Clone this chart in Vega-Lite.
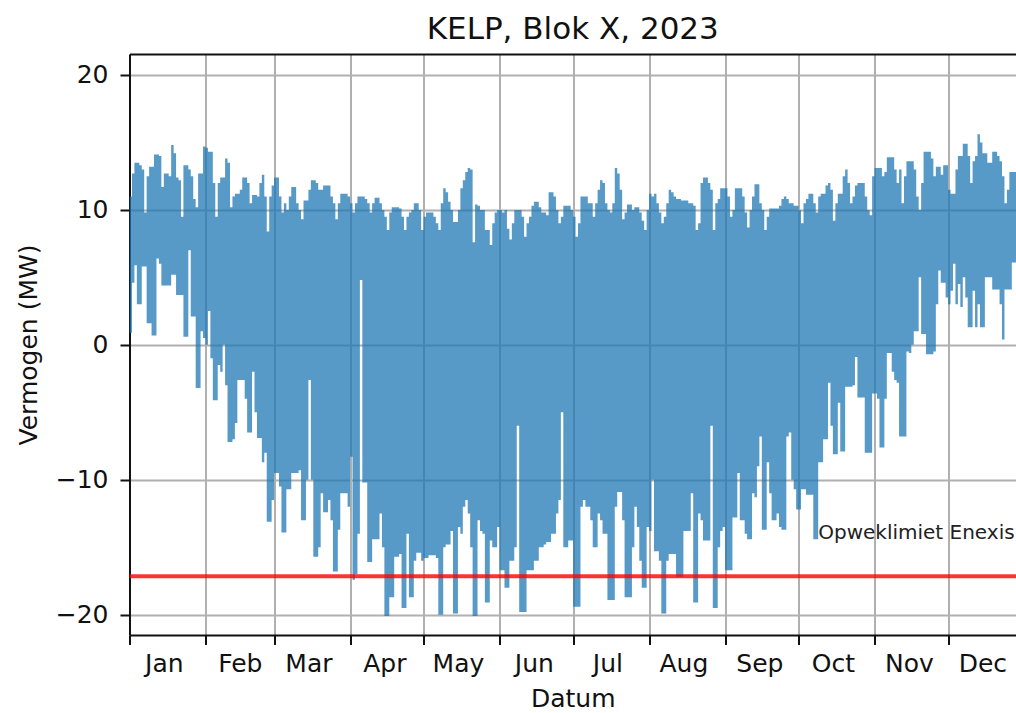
{
  "$schema": "https://vega.github.io/schema/vega-lite/v6.json",
  "width": 886.5,
  "height": 581,
  "autosize": {"type": "none"},
  "padding": {"left": 129.5, "top": 54, "right": 0, "bottom": 78},
  "background": "white",
  "config": {"font": "DejaVu Sans", "view": {"stroke": null}},
  "title": {"text": "KELP, Blok X, 2023", "fontSize": 31, "fontWeight": "normal", "color": "#111", "font": "DejaVu Sans", "baseline": "alphabetic", "frame": "group", "offset": 16, "dy": 32, "anchor": "middle"},
  "resolve": {"axis": {"x": "independent"}},
  "layer": [
    {
      "data": {"values": [
{"d":"2023-01-01","hi":11.0,"lo":0.9},{"d":"2023-01-02","hi":12.7,"lo":4.6},{"d":"2023-01-03","hi":13.5,"lo":5.9},{"d":"2023-01-04","hi":13.5,"lo":3.0},{"d":"2023-01-05","hi":13.3,"lo":3.0},{"d":"2023-01-06","hi":13.0,"lo":5.8},{"d":"2023-01-07","hi":9.8,"lo":5.8},{"d":"2023-01-08","hi":12.5,"lo":1.6},{"d":"2023-01-09","hi":13.2,"lo":1.6},{"d":"2023-01-10","hi":13.2,"lo":0.7},{"d":"2023-01-11","hi":14.1,"lo":0.7},{"d":"2023-01-12","hi":14.1,"lo":6.4},{"d":"2023-01-13","hi":14.0,"lo":6.0},{"d":"2023-01-14","hi":11.7,"lo":4.4},{"d":"2023-01-15","hi":12.7,"lo":4.4},{"d":"2023-01-16","hi":12.7,"lo":4.4},{"d":"2023-01-17","hi":12.5,"lo":4.4},{"d":"2023-01-18","hi":14.8,"lo":5.2},{"d":"2023-01-19","hi":14.2,"lo":5.2},{"d":"2023-01-20","hi":12.4,"lo":3.7},{"d":"2023-01-21","hi":12.2,"lo":3.7},{"d":"2023-01-22","hi":9.5,"lo":3.7},{"d":"2023-01-23","hi":13.3,"lo":0.6},{"d":"2023-01-24","hi":13.3,"lo":0.6},{"d":"2023-01-25","hi":13.0,"lo":7.0},{"d":"2023-01-26","hi":12.5,"lo":2.1},{"d":"2023-01-27","hi":10.8,"lo":2.1},{"d":"2023-01-28","hi":10.2,"lo":-3.2},{"d":"2023-01-29","hi":12.7,"lo":-3.2},{"d":"2023-01-30","hi":12.7,"lo":1.0},{"d":"2023-01-31","hi":14.7,"lo":0.5},
{"d":"2023-02-01","hi":14.6,"lo":0.0},{"d":"2023-02-02","hi":14.3,"lo":2.5},{"d":"2023-02-03","hi":14.3,"lo":-1.0},{"d":"2023-02-04","hi":12.0,"lo":-4.1},{"d":"2023-02-05","hi":9.5,"lo":-4.1},{"d":"2023-02-06","hi":12.0,"lo":-1.5},{"d":"2023-02-07","hi":12.4,"lo":-2.0},{"d":"2023-02-08","hi":12.4,"lo":0.0},{"d":"2023-02-09","hi":13.8,"lo":-3.0},{"d":"2023-02-10","hi":13.5,"lo":-7.2},{"d":"2023-02-11","hi":10.2,"lo":-7.2},{"d":"2023-02-12","hi":11.0,"lo":-7.0},{"d":"2023-02-13","hi":11.2,"lo":-5.8},{"d":"2023-02-14","hi":11.2,"lo":-2.6},{"d":"2023-02-15","hi":11.5,"lo":-2.6},{"d":"2023-02-16","hi":12.4,"lo":-2.6},{"d":"2023-02-17","hi":12.4,"lo":-4.0},{"d":"2023-02-18","hi":12.0,"lo":-6.5},{"d":"2023-02-19","hi":10.5,"lo":-6.5},{"d":"2023-02-20","hi":11.1,"lo":-2.0},{"d":"2023-02-21","hi":11.1,"lo":-5.0},{"d":"2023-02-22","hi":11.0,"lo":-6.9},{"d":"2023-02-23","hi":12.0,"lo":-6.9},{"d":"2023-02-24","hi":12.6,"lo":-8.7},{"d":"2023-02-25","hi":11.0,"lo":-8.0},{"d":"2023-02-26","hi":8.4,"lo":-13.1},{"d":"2023-02-27","hi":11.0,"lo":-13.1},{"d":"2023-02-28","hi":11.8,"lo":-11.5},
{"d":"2023-03-01","hi":12.4,"lo":-9.5},{"d":"2023-03-02","hi":12.4,"lo":-9.5},{"d":"2023-03-03","hi":11.0,"lo":-10.5},{"d":"2023-03-04","hi":9.8,"lo":-13.9},{"d":"2023-03-05","hi":10.5,"lo":-13.9},{"d":"2023-03-06","hi":10.0,"lo":-10.7},{"d":"2023-03-07","hi":11.0,"lo":-10.7},{"d":"2023-03-08","hi":11.7,"lo":-9.5},{"d":"2023-03-09","hi":11.7,"lo":-9.5},{"d":"2023-03-10","hi":10.5,"lo":-9.5},{"d":"2023-03-11","hi":10.0,"lo":-9.3},{"d":"2023-03-12","hi":9.3,"lo":-13.0},{"d":"2023-03-13","hi":10.7,"lo":-13.0},{"d":"2023-03-14","hi":10.7,"lo":-10.0},{"d":"2023-03-15","hi":11.5,"lo":-2.6},{"d":"2023-03-16","hi":12.2,"lo":-10.0},{"d":"2023-03-17","hi":12.2,"lo":-15.7},{"d":"2023-03-18","hi":12.0,"lo":-15.7},{"d":"2023-03-19","hi":11.5,"lo":-15.0},{"d":"2023-03-20","hi":11.5,"lo":-11.0},{"d":"2023-03-21","hi":11.8,"lo":-12.4},{"d":"2023-03-22","hi":11.8,"lo":-12.4},{"d":"2023-03-23","hi":11.8,"lo":-11.5},{"d":"2023-03-24","hi":11.0,"lo":-13.0},{"d":"2023-03-25","hi":10.5,"lo":-16.8},{"d":"2023-03-26","hi":9.3,"lo":-16.8},{"d":"2023-03-27","hi":10.5,"lo":-13.7},{"d":"2023-03-28","hi":11.2,"lo":-11.0},{"d":"2023-03-29","hi":11.2,"lo":-11.0},{"d":"2023-03-30","hi":11.2,"lo":-11.0},{"d":"2023-03-31","hi":11.0,"lo":-12.0},
{"d":"2023-04-01","hi":10.5,"lo":-8.3},{"d":"2023-04-02","hi":9.8,"lo":-17.4},{"d":"2023-04-03","hi":10.5,"lo":-17.0},{"d":"2023-04-04","hi":11.0,"lo":-14.0},{"d":"2023-04-05","hi":11.0,"lo":4.8},{"d":"2023-04-06","hi":11.0,"lo":-10.2},{"d":"2023-04-07","hi":10.8,"lo":-10.2},{"d":"2023-04-08","hi":10.5,"lo":-16.1},{"d":"2023-04-09","hi":9.8,"lo":-16.1},{"d":"2023-04-10","hi":10.5,"lo":-14.4},{"d":"2023-04-11","hi":10.9,"lo":-14.4},{"d":"2023-04-12","hi":10.9,"lo":-14.4},{"d":"2023-04-13","hi":10.5,"lo":-12.5},{"d":"2023-04-14","hi":10.0,"lo":-15.0},{"d":"2023-04-15","hi":9.5,"lo":-20.1},{"d":"2023-04-16","hi":8.5,"lo":-20.1},{"d":"2023-04-17","hi":9.8,"lo":-18.7},{"d":"2023-04-18","hi":10.2,"lo":-18.7},{"d":"2023-04-19","hi":10.2,"lo":-15.7},{"d":"2023-04-20","hi":10.2,"lo":-15.7},{"d":"2023-04-21","hi":10.1,"lo":-15.5},{"d":"2023-04-22","hi":9.5,"lo":-19.5},{"d":"2023-04-23","hi":8.5,"lo":-19.5},{"d":"2023-04-24","hi":9.5,"lo":-14.0},{"d":"2023-04-25","hi":9.8,"lo":-18.7},{"d":"2023-04-26","hi":10.0,"lo":-18.7},{"d":"2023-04-27","hi":10.5,"lo":-16.0},{"d":"2023-04-28","hi":10.5,"lo":-15.4},{"d":"2023-04-29","hi":10.0,"lo":-15.4},{"d":"2023-04-30","hi":8.5,"lo":-16.0},
{"d":"2023-05-01","hi":9.5,"lo":-15.8},{"d":"2023-05-02","hi":9.8,"lo":-15.8},{"d":"2023-05-03","hi":9.8,"lo":-15.6},{"d":"2023-05-04","hi":9.8,"lo":-15.6},{"d":"2023-05-05","hi":9.5,"lo":-15.6},{"d":"2023-05-06","hi":9.0,"lo":-15.8},{"d":"2023-05-07","hi":8.5,"lo":-20.0},{"d":"2023-05-08","hi":10.5,"lo":-20.0},{"d":"2023-05-09","hi":11.6,"lo":-15.0},{"d":"2023-05-10","hi":11.3,"lo":-14.8},{"d":"2023-05-11","hi":10.6,"lo":-14.8},{"d":"2023-05-12","hi":10.0,"lo":-13.8},{"d":"2023-05-13","hi":9.1,"lo":-19.9},{"d":"2023-05-14","hi":9.1,"lo":-19.9},{"d":"2023-05-15","hi":10.0,"lo":-13.5},{"d":"2023-05-16","hi":11.6,"lo":-14.0},{"d":"2023-05-17","hi":12.2,"lo":-12.0},{"d":"2023-05-18","hi":12.8,"lo":-11.5},{"d":"2023-05-19","hi":13.1,"lo":-12.5},{"d":"2023-05-20","hi":13.0,"lo":-15.0},{"d":"2023-05-21","hi":7.6,"lo":-20.1},{"d":"2023-05-22","hi":10.4,"lo":-20.1},{"d":"2023-05-23","hi":10.3,"lo":-13.0},{"d":"2023-05-24","hi":10.0,"lo":-13.8},{"d":"2023-05-25","hi":10.0,"lo":-14.0},{"d":"2023-05-26","hi":8.5,"lo":-19.1},{"d":"2023-05-27","hi":8.5,"lo":-19.1},{"d":"2023-05-28","hi":7.4,"lo":-14.5},{"d":"2023-05-29","hi":9.0,"lo":-15.0},{"d":"2023-05-30","hi":9.8,"lo":-15.0},{"d":"2023-05-31","hi":10.0,"lo":-13.5},
{"d":"2023-06-01","hi":10.0,"lo":-16.7},{"d":"2023-06-02","hi":9.8,"lo":-16.7},{"d":"2023-06-03","hi":10.0,"lo":-18.0},{"d":"2023-06-04","hi":8.6,"lo":-18.0},{"d":"2023-06-05","hi":7.8,"lo":-16.0},{"d":"2023-06-06","hi":9.0,"lo":-16.0},{"d":"2023-06-07","hi":10.0,"lo":-15.0},{"d":"2023-06-08","hi":10.0,"lo":-6.0},{"d":"2023-06-09","hi":10.0,"lo":-19.8},{"d":"2023-06-10","hi":9.5,"lo":-19.8},{"d":"2023-06-11","hi":8.0,"lo":-19.8},{"d":"2023-06-12","hi":9.0,"lo":-16.7},{"d":"2023-06-13","hi":9.5,"lo":-16.7},{"d":"2023-06-14","hi":10.3,"lo":-16.7},{"d":"2023-06-15","hi":10.6,"lo":-16.0},{"d":"2023-06-16","hi":10.6,"lo":-16.0},{"d":"2023-06-17","hi":10.2,"lo":-15.0},{"d":"2023-06-18","hi":9.8,"lo":-15.0},{"d":"2023-06-19","hi":9.8,"lo":-14.8},{"d":"2023-06-20","hi":9.6,"lo":-14.6},{"d":"2023-06-21","hi":11.3,"lo":-14.6},{"d":"2023-06-22","hi":11.3,"lo":-14.0},{"d":"2023-06-23","hi":11.0,"lo":-14.0},{"d":"2023-06-24","hi":10.0,"lo":-12.5},{"d":"2023-06-25","hi":9.0,"lo":-11.5},{"d":"2023-06-26","hi":9.5,"lo":-5.0},{"d":"2023-06-27","hi":10.3,"lo":-15.0},{"d":"2023-06-28","hi":10.3,"lo":-15.0},{"d":"2023-06-29","hi":10.3,"lo":-14.5},{"d":"2023-06-30","hi":10.0,"lo":-14.5},
{"d":"2023-07-01","hi":9.5,"lo":-19.4},{"d":"2023-07-02","hi":8.0,"lo":-19.4},{"d":"2023-07-03","hi":9.0,"lo":-19.4},{"d":"2023-07-04","hi":11.0,"lo":-12.0},{"d":"2023-07-05","hi":11.0,"lo":-11.5},{"d":"2023-07-06","hi":11.0,"lo":-12.0},{"d":"2023-07-07","hi":10.5,"lo":-12.0},{"d":"2023-07-08","hi":10.5,"lo":-13.0},{"d":"2023-07-09","hi":9.5,"lo":-15.0},{"d":"2023-07-10","hi":10.5,"lo":-15.0},{"d":"2023-07-11","hi":11.5,"lo":-12.5},{"d":"2023-07-12","hi":12.2,"lo":-13.0},{"d":"2023-07-13","hi":12.0,"lo":-14.0},{"d":"2023-07-14","hi":10.5,"lo":-14.0},{"d":"2023-07-15","hi":10.0,"lo":-18.9},{"d":"2023-07-16","hi":9.8,"lo":-18.9},{"d":"2023-07-17","hi":10.5,"lo":-18.9},{"d":"2023-07-18","hi":13.1,"lo":-12.0},{"d":"2023-07-19","hi":12.7,"lo":-10.9},{"d":"2023-07-20","hi":11.5,"lo":-10.9},{"d":"2023-07-21","hi":9.3,"lo":-13.0},{"d":"2023-07-22","hi":9.8,"lo":-18.7},{"d":"2023-07-23","hi":10.4,"lo":-18.7},{"d":"2023-07-24","hi":10.4,"lo":-18.7},{"d":"2023-07-25","hi":10.0,"lo":-15.0},{"d":"2023-07-26","hi":10.2,"lo":-12.0},{"d":"2023-07-27","hi":10.2,"lo":-13.5},{"d":"2023-07-28","hi":9.8,"lo":-16.0},{"d":"2023-07-29","hi":9.2,"lo":-18.0},{"d":"2023-07-30","hi":8.5,"lo":-18.0},{"d":"2023-07-31","hi":10.0,"lo":-13.5},
{"d":"2023-08-01","hi":11.2,"lo":-13.8},{"d":"2023-08-02","hi":11.0,"lo":-10.0},{"d":"2023-08-03","hi":11.2,"lo":-15.3},{"d":"2023-08-04","hi":10.5,"lo":-15.3},{"d":"2023-08-05","hi":9.8,"lo":-16.0},{"d":"2023-08-06","hi":9.0,"lo":-19.9},{"d":"2023-08-07","hi":9.5,"lo":-19.9},{"d":"2023-08-08","hi":10.5,"lo":-16.0},{"d":"2023-08-09","hi":11.5,"lo":-15.5},{"d":"2023-08-10","hi":11.3,"lo":-15.5},{"d":"2023-08-11","hi":11.0,"lo":-15.5},{"d":"2023-08-12","hi":10.8,"lo":-17.2},{"d":"2023-08-13","hi":10.8,"lo":-17.2},{"d":"2023-08-14","hi":10.7,"lo":-17.2},{"d":"2023-08-15","hi":10.7,"lo":-13.8},{"d":"2023-08-16","hi":10.7,"lo":-13.8},{"d":"2023-08-17","hi":10.5,"lo":-13.8},{"d":"2023-08-18","hi":10.5,"lo":-11.0},{"d":"2023-08-19","hi":10.3,"lo":-19.1},{"d":"2023-08-20","hi":8.5,"lo":-19.1},{"d":"2023-08-21","hi":9.0,"lo":-12.5},{"d":"2023-08-22","hi":12.0,"lo":-13.0},{"d":"2023-08-23","hi":12.4,"lo":-14.5},{"d":"2023-08-24","hi":12.4,"lo":-14.5},{"d":"2023-08-25","hi":12.0,"lo":-14.5},{"d":"2023-08-26","hi":11.5,"lo":-6.0},{"d":"2023-08-27","hi":8.5,"lo":-19.5},{"d":"2023-08-28","hi":10.5,"lo":-19.5},{"d":"2023-08-29","hi":10.8,"lo":-15.0},{"d":"2023-08-30","hi":11.6,"lo":-13.8},{"d":"2023-08-31","hi":11.6,"lo":-13.5},
{"d":"2023-09-01","hi":11.6,"lo":-16.7},{"d":"2023-09-02","hi":11.0,"lo":-16.7},{"d":"2023-09-03","hi":9.5,"lo":-16.7},{"d":"2023-09-04","hi":10.0,"lo":-12.8},{"d":"2023-09-05","hi":11.6,"lo":-12.8},{"d":"2023-09-06","hi":11.6,"lo":-9.5},{"d":"2023-09-07","hi":11.6,"lo":-13.0},{"d":"2023-09-08","hi":11.0,"lo":-13.0},{"d":"2023-09-09","hi":9.8,"lo":-14.0},{"d":"2023-09-10","hi":8.7,"lo":-14.4},{"d":"2023-09-11","hi":10.0,"lo":-14.4},{"d":"2023-09-12","hi":11.0,"lo":-11.0},{"d":"2023-09-13","hi":11.9,"lo":-11.3},{"d":"2023-09-14","hi":11.9,"lo":-9.0},{"d":"2023-09-15","hi":10.5,"lo":-6.8},{"d":"2023-09-16","hi":10.0,"lo":-13.7},{"d":"2023-09-17","hi":8.5,"lo":-13.7},{"d":"2023-09-18","hi":9.5,"lo":-8.7},{"d":"2023-09-19","hi":10.1,"lo":-11.0},{"d":"2023-09-20","hi":10.1,"lo":-13.0},{"d":"2023-09-21","hi":10.1,"lo":-13.0},{"d":"2023-09-22","hi":10.1,"lo":-12.5},{"d":"2023-09-23","hi":10.3,"lo":-13.5},{"d":"2023-09-24","hi":10.8,"lo":-13.7},{"d":"2023-09-25","hi":11.0,"lo":-13.7},{"d":"2023-09-26","hi":10.8,"lo":-6.8},{"d":"2023-09-27","hi":10.5,"lo":-6.5},{"d":"2023-09-28","hi":10.5,"lo":-10.0},{"d":"2023-09-29","hi":10.3,"lo":-10.7},{"d":"2023-09-30","hi":10.3,"lo":-12.2},
{"d":"2023-10-01","hi":10.0,"lo":-12.2},{"d":"2023-10-02","hi":9.0,"lo":-10.7},{"d":"2023-10-03","hi":10.5,"lo":-10.7},{"d":"2023-10-04","hi":10.8,"lo":-11.1},{"d":"2023-10-05","hi":11.2,"lo":-11.1},{"d":"2023-10-06","hi":11.2,"lo":-11.1},{"d":"2023-10-07","hi":10.5,"lo":-14.4},{"d":"2023-10-08","hi":9.8,"lo":-14.4},{"d":"2023-10-09","hi":11.0,"lo":-8.7},{"d":"2023-10-10","hi":11.2,"lo":-8.7},{"d":"2023-10-11","hi":11.2,"lo":-7.0},{"d":"2023-10-12","hi":11.8,"lo":-7.0},{"d":"2023-10-13","hi":12.0,"lo":-2.8},{"d":"2023-10-14","hi":11.5,"lo":-6.0},{"d":"2023-10-15","hi":9.2,"lo":-8.1},{"d":"2023-10-16","hi":10.5,"lo":-8.1},{"d":"2023-10-17","hi":11.2,"lo":-4.3},{"d":"2023-10-18","hi":11.2,"lo":-7.9},{"d":"2023-10-19","hi":12.5,"lo":-7.9},{"d":"2023-10-20","hi":13.0,"lo":-3.1},{"d":"2023-10-21","hi":12.0,"lo":-3.1},{"d":"2023-10-22","hi":10.5,"lo":-3.1},{"d":"2023-10-23","hi":11.0,"lo":-3.0},{"d":"2023-10-24","hi":11.8,"lo":-0.9},{"d":"2023-10-25","hi":12.0,"lo":-3.9},{"d":"2023-10-26","hi":12.0,"lo":-3.9},{"d":"2023-10-27","hi":12.0,"lo":-3.9},{"d":"2023-10-28","hi":11.0,"lo":-8.0},{"d":"2023-10-29","hi":10.0,"lo":-8.0},{"d":"2023-10-30","hi":9.6,"lo":-8.0},{"d":"2023-10-31","hi":12.5,"lo":-3.6},
{"d":"2023-11-01","hi":13.1,"lo":-3.6},{"d":"2023-11-02","hi":13.1,"lo":-4.0},{"d":"2023-11-03","hi":13.1,"lo":-7.6},{"d":"2023-11-04","hi":12.5,"lo":-7.6},{"d":"2023-11-05","hi":12.8,"lo":-4.0},{"d":"2023-11-06","hi":13.9,"lo":-0.6},{"d":"2023-11-07","hi":13.9,"lo":-0.6},{"d":"2023-11-08","hi":13.9,"lo":-2.0},{"d":"2023-11-09","hi":13.0,"lo":-2.6},{"d":"2023-11-10","hi":12.0,"lo":-2.8},{"d":"2023-11-11","hi":13.0,"lo":-6.8},{"d":"2023-11-12","hi":10.5,"lo":-6.8},{"d":"2023-11-13","hi":12.5,"lo":-6.8},{"d":"2023-11-14","hi":13.6,"lo":-0.5},{"d":"2023-11-15","hi":13.6,"lo":-0.6},{"d":"2023-11-16","hi":13.6,"lo":0.0},{"d":"2023-11-17","hi":13.0,"lo":1.0},{"d":"2023-11-18","hi":11.0,"lo":1.0},{"d":"2023-11-19","hi":10.0,"lo":5.0},{"d":"2023-11-20","hi":12.0,"lo":0.8},{"d":"2023-11-21","hi":14.3,"lo":0.8},{"d":"2023-11-22","hi":14.3,"lo":-0.7},{"d":"2023-11-23","hi":14.3,"lo":-0.7},{"d":"2023-11-24","hi":13.8,"lo":-0.7},{"d":"2023-11-25","hi":12.5,"lo":-0.5},{"d":"2023-11-26","hi":13.2,"lo":3.0},{"d":"2023-11-27","hi":13.2,"lo":5.5},{"d":"2023-11-28","hi":12.6,"lo":4.6},{"d":"2023-11-29","hi":13.3,"lo":4.6},{"d":"2023-11-30","hi":13.3,"lo":3.5},
{"d":"2023-12-01","hi":11.5,"lo":3.0},{"d":"2023-12-02","hi":11.2,"lo":4.0},{"d":"2023-12-03","hi":11.2,"lo":6.0},{"d":"2023-12-04","hi":13.0,"lo":3.0},{"d":"2023-12-05","hi":14.0,"lo":4.5},{"d":"2023-12-06","hi":14.0,"lo":2.8},{"d":"2023-12-07","hi":14.9,"lo":5.0},{"d":"2023-12-08","hi":14.9,"lo":3.5},{"d":"2023-12-09","hi":14.0,"lo":1.3},{"d":"2023-12-10","hi":12.0,"lo":1.3},{"d":"2023-12-11","hi":13.6,"lo":4.0},{"d":"2023-12-12","hi":14.0,"lo":1.3},{"d":"2023-12-13","hi":15.6,"lo":3.0},{"d":"2023-12-14","hi":15.0,"lo":1.3},{"d":"2023-12-15","hi":14.2,"lo":1.3},{"d":"2023-12-16","hi":14.2,"lo":5.0},{"d":"2023-12-17","hi":13.5,"lo":5.0},{"d":"2023-12-18","hi":13.5,"lo":5.0},{"d":"2023-12-19","hi":14.3,"lo":4.1},{"d":"2023-12-20","hi":14.3,"lo":4.1},{"d":"2023-12-21","hi":14.0,"lo":4.1},{"d":"2023-12-22","hi":13.6,"lo":3.0},{"d":"2023-12-23","hi":12.5,"lo":0.4},{"d":"2023-12-24","hi":10.5,"lo":4.1},{"d":"2023-12-25","hi":11.5,"lo":4.1},{"d":"2023-12-26","hi":12.8,"lo":4.1},{"d":"2023-12-27","hi":12.8,"lo":6.1},{"d":"2023-12-28","hi":12.8,"lo":6.1},{"d":"2023-12-29","hi":12.5,"lo":5.5},{"d":"2023-12-30","hi":12.5,"lo":5.5},{"d":"2023-12-31","hi":12.0,"lo":5.0}
      ]},
      "mark": {"type": "area", "interpolate": "step-after", "color": "#1f77b4", "opacity": 0.75, "clip": true},
      "encoding": {
        "x": {
          "field": "d", "type": "temporal",
          "scale": {"type": "utc", "domain": [{"year": 2023, "month": 1, "date": 1, "utc": true}, {"year": 2023, "month": 12, "date": 28, "hours": 17, "utc": true}]},
          "axis": {
            "orient": "bottom",
            "values": [
              {"year": 2023, "month": 1, "date": 1, "utc": true}, {"year": 2023, "month": 2, "date": 1, "utc": true},
              {"year": 2023, "month": 3, "date": 1, "utc": true}, {"year": 2023, "month": 4, "date": 1, "utc": true},
              {"year": 2023, "month": 5, "date": 1, "utc": true}, {"year": 2023, "month": 6, "date": 1, "utc": true},
              {"year": 2023, "month": 7, "date": 1, "utc": true}, {"year": 2023, "month": 8, "date": 1, "utc": true},
              {"year": 2023, "month": 9, "date": 1, "utc": true}, {"year": 2023, "month": 10, "date": 1, "utc": true},
              {"year": 2023, "month": 11, "date": 1, "utc": true}, {"year": 2023, "month": 12, "date": 1, "utc": true}
            ],
            "labelExpr": "utcFormat(datum.value, '%b')",
            "labelOffset": 34.3, "labelAlign": "center", "labelFontSize": 25, "labelColor": "#111",
            "labelPadding": 7, "labelOverlap": false, "labelFlush": false,
            "tickSize": 9.5, "tickWidth": 2, "tickColor": "#111",
            "domainColor": "#111", "domainWidth": 2,
            "grid": true, "gridColor": "#b0b0b0", "gridWidth": 2,
            "title": "Datum", "titleFontSize": 25, "titleFontWeight": "normal", "titleColor": "#111", "titlePadding": 10
          }
        },
        "y": {
          "field": "lo", "type": "quantitative",
          "scale": {"domain": [-21.5, 21.55], "nice": false, "zero": false},
          "axis": {
            "values": [-20, -10, 0, 10, 20],
            "labelExpr": "replace(datum.label, '-', '−')",
            "labelFontSize": 25, "labelColor": "#111", "labelPadding": 12,
            "tickSize": 9.5, "tickWidth": 2, "tickColor": "#111",
            "domainColor": "#111", "domainWidth": 2,
            "grid": true, "gridColor": "#b0b0b0", "gridWidth": 2,
            "title": "Vermogen (MW)", "titleFontSize": 25, "titleFontWeight": "normal", "titleColor": "#111", "titlePadding": 14
          }
        },
        "y2": {"field": "hi"}
      }
    },
    {
      "data": {"values": [{"limit": -17.15}]},
      "mark": {"type": "rule", "color": "#ff0000", "opacity": 0.8, "strokeWidth": 4},
      "encoding": {"y": {"field": "limit", "type": "quantitative", "title": "Vermogen (MW)"}}
    },
    {
      "data": {"values": [{"d": "2023-10-09", "ty": -14.4, "label": "Opweklimiet Enexis"}]},
      "mark": {"type": "text", "align": "left", "baseline": "alphabetic", "fontSize": 20, "color": "#222", "font": "DejaVu Sans"},
      "encoding": {
        "x": {"field": "d", "type": "temporal", "axis": {"orient": "top", "labels": false, "ticks": false, "grid": false, "domainColor": "#111", "domainWidth": 2, "title": null, "minExtent": 0, "maxExtent": 0}},
        "y": {"field": "ty", "type": "quantitative", "title": "Vermogen (MW)"},
        "text": {"field": "label"}
      }
    }
  ]
}
